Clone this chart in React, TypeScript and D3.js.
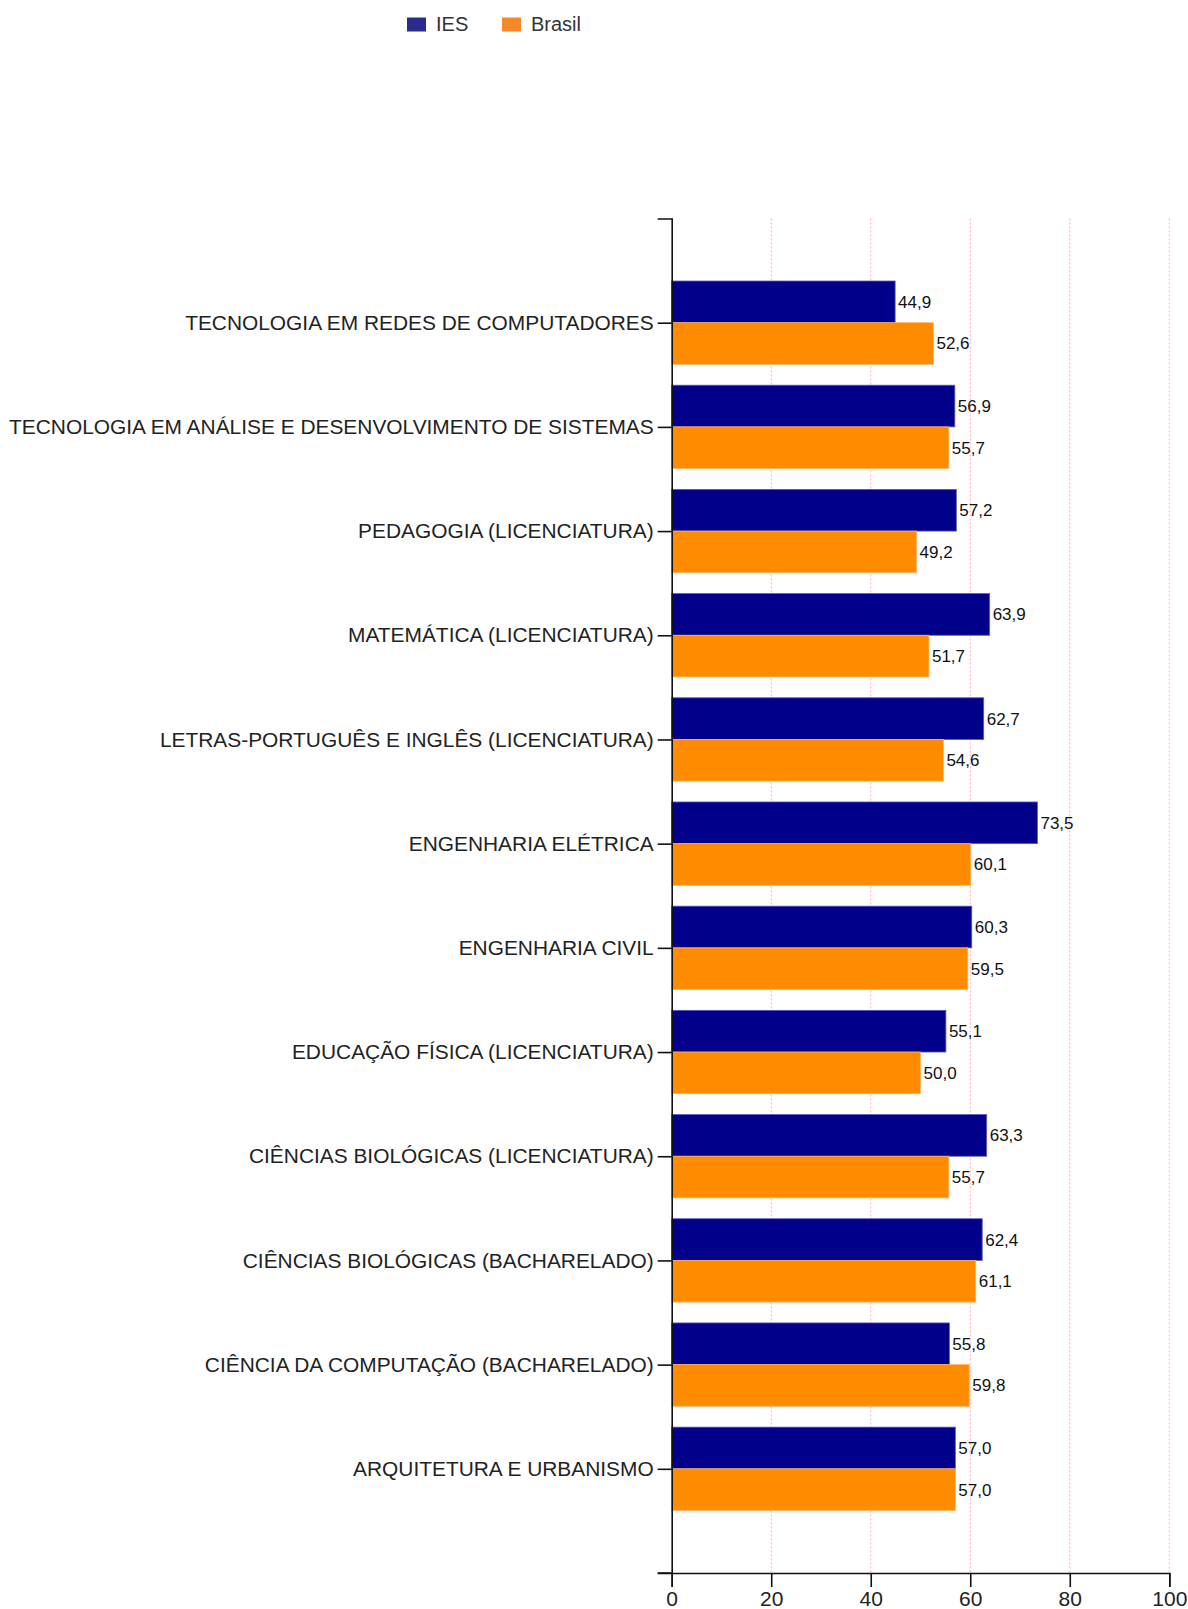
import React, { useEffect, useRef } from "react";
import * as d3 from "d3";

const categories: string[] = [
  "TECNOLOGIA EM REDES DE COMPUTADORES",
  "TECNOLOGIA EM ANÁLISE E DESENVOLVIMENTO DE SISTEMAS",
  "PEDAGOGIA (LICENCIATURA)",
  "MATEMÁTICA (LICENCIATURA)",
  "LETRAS-PORTUGUÊS E INGLÊS (LICENCIATURA)",
  "ENGENHARIA ELÉTRICA",
  "ENGENHARIA CIVIL",
  "EDUCAÇÃO FÍSICA (LICENCIATURA)",
  "CIÊNCIAS BIOLÓGICAS (LICENCIATURA)",
  "CIÊNCIAS BIOLÓGICAS (BACHARELADO)",
  "CIÊNCIA DA COMPUTAÇÃO (BACHARELADO)",
  "ARQUITETURA E URBANISMO",
];

const iesValues: number[] = [44.9, 56.9, 57.2, 63.9, 62.7, 73.5, 60.3, 55.1, 63.3, 62.4, 55.8, 57.0];
const brasilValues: number[] = [52.6, 55.7, 49.2, 51.7, 54.6, 60.1, 59.5, 50.0, 55.7, 61.1, 59.8, 57.0];

const seriesNames: string[] = ["IES", "Brasil"];
const xTicks: number[] = [0, 20, 40, 60, 80, 100];

const W = 1188;
const H = 1609;
const X0 = 671.7;
const X1 = 1169.3;
const Y0 = 218.5;
const Y1 = 1573;

const barColors = ["#00008B", "#FF8C00"];
const barStrokes = ["#5a5ab8", "#ffb366"];
const legendColors = ["#2b2b8c", "#f5892a"];

export default function App() {
  const ref = useRef<SVGSVGElement | null>(null);

  useEffect(() => {
    const svg = d3.select(ref.current);
    svg.selectAll("*").remove();

    const x = d3.scaleLinear().domain([0, 100]).range([X0, X1]);
    const y = d3.scalePoint<string>().domain(categories).range([Y0, Y1]).padding(1);
    const step = y.step();
    const barH = step * 0.4;

    // grid
    svg
      .append("g")
      .selectAll("line")
      .data(xTicks.filter((t) => t > 0))
      .join("line")
      .attr("x1", (d) => x(d))
      .attr("x2", (d) => x(d))
      .attr("y1", Y0)
      .attr("y2", Y1)
      .attr("stroke", "#ffa8c0")
      .attr("stroke-width", 1)
      .attr("stroke-dasharray", "2,2");

    // bars
    const series = [iesValues, brasilValues];
    series.forEach((vals, si) => {
      const g = svg.append("g");
      g.selectAll("rect")
        .data(categories)
        .join("rect")
        .attr("x", X0)
        .attr("y", (d) => (y(d) as number) - barH + si * barH)
        .attr("width", (_d, i) => x(vals[i]) - X0)
        .attr("height", barH)
        .attr("fill", barColors[si])
        .attr("stroke", barStrokes[si])
        .attr("stroke-width", 0.8);
      g.selectAll("text")
        .data(categories)
        .join("text")
        .attr("x", (_d, i) => x(vals[i]) + 3)
        .attr("y", (d) => (y(d) as number) - barH + si * barH + barH / 2)
        .attr("dy", "0.35em")
        .attr("font-family", "Arial, 'Liberation Sans', sans-serif")
        .attr("font-size", 17)
        .attr("fill", "#111")
        .text((_d, i) => vals[i].toFixed(1).replace(".", ","));
    });

    // y axis
    const yAxis = svg
      .append("g")
      .attr("transform", `translate(${X0},0)`)
      .call(d3.axisLeft(y).tickSize(14).tickSizeOuter(14).tickPadding(4));
    yAxis.select(".domain").attr("stroke", "#111").attr("stroke-width", 1.6);
    yAxis.selectAll(".tick line").attr("stroke", "#111").attr("stroke-width", 1.6);
    yAxis
      .selectAll(".tick text")
      .attr("font-family", "Arial, 'Liberation Sans', sans-serif")
      .attr("font-size", 20.9)
      .attr("fill", "#222");

    // x axis
    const xAxis = svg
      .append("g")
      .attr("transform", `translate(0,${Y1})`)
      .call(d3.axisBottom(x).tickValues(xTicks).tickSize(14).tickSizeOuter(14).tickPadding(4));
    xAxis.select(".domain").attr("stroke", "#111").attr("stroke-width", 1.6);
    xAxis.selectAll(".tick line").attr("stroke", "#111").attr("stroke-width", 1.6);
    xAxis
      .selectAll(".tick text")
      .attr("font-family", "Arial, 'Liberation Sans', sans-serif")
      .attr("font-size", 21)
      .attr("fill", "#222");
    // extend x-axis line to the left like the y axis outer tick
    svg
      .append("line")
      .attr("x1", X0 - 14)
      .attr("x2", X0)
      .attr("y1", Y1)
      .attr("y2", Y1)
      .attr("stroke", "#111")
      .attr("stroke-width", 1.6);

    // legend
    const legendX = [407, 502];
    const lg = svg.append("g");
    seriesNames.forEach((name, i) => {
      lg.append("rect")
        .attr("x", legendX[i])
        .attr("y", 17.5)
        .attr("width", 19)
        .attr("height", 14)
        .attr("fill", legendColors[i]);
      lg.append("text")
        .attr("x", legendX[i] + 29)
        .attr("y", 31)
        .attr("font-family", "Arial, 'Liberation Sans', sans-serif")
        .attr("font-size", 20)
        .attr("fill", "#333")
        .text(name);
    });
  }, []);

  return (
    <svg
      ref={ref}
      width={W}
      height={H}
      style={{ position: "absolute", left: 0, top: 0, overflow: "hidden", background: "#fff" }}
    />
  );
}
